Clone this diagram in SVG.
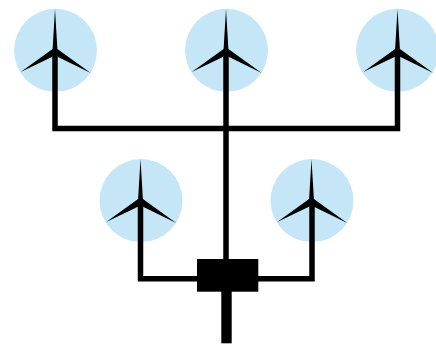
<svg xmlns="http://www.w3.org/2000/svg" width="436" height="348" viewBox="0 0 436 348">
<defs>
<style>.disc{fill:#c5e6f7}.blade{fill:#000}.wire{fill:none;stroke:#000;stroke-width:5.500}</style>
<g id="rotor"><path class="blade" d="M0 -43 L2.400 -3 L35.700 21 L0 3.500 L-34.300 20 L-2.400 -3 Z"/><circle r="3.500"/></g>
</defs>
<rect width="436" height="348" fill="#fff"/>
<g id="discs">
<circle class="disc" cx="55.500" cy="50.300" r="41.500"/>
<circle class="disc" cx="226.500" cy="50.300" r="41.500"/>
<circle class="disc" cx="397.500" cy="50.300" r="41.500"/>
<circle class="disc" cx="141" cy="200.600" r="41.500"/>
<circle class="disc" cx="312" cy="200.600" r="41.500"/>
</g>
<g id="connectors">
<path class="wire" d="M55 52V128.500H397.500V52"/>
<path class="wire" d="M226 52V262"/>
<path class="wire" d="M140.500 202V278.700H312V202"/>
<rect x="221.300" y="290" width="10.400" height="53.300"/>
</g>
<g id="turbine-1"><use href="#rotor" x="55" y="52"/></g>
<g id="turbine-2"><use href="#rotor" x="226" y="52"/></g>
<g id="turbine-3"><use href="#rotor" x="397.500" y="52"/></g>
<g id="turbine-4"><use href="#rotor" x="140.500" y="202"/></g>
<g id="turbine-5"><use href="#rotor" x="311.500" y="202"/></g>
<g id="substation"><rect x="197" y="259" width="61.300" height="32.700"/></g>
</svg>
